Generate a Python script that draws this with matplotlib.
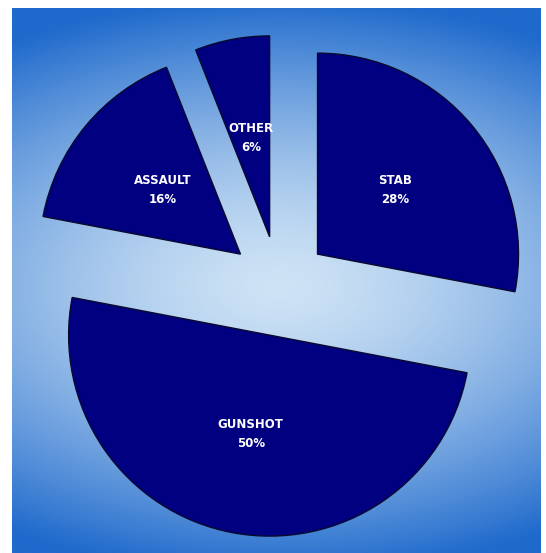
import numpy as np
import matplotlib
matplotlib.use("Agg")
import matplotlib.pyplot as plt
from matplotlib.colors import LinearSegmentedColormap

# Daten
categories = ["STAB", "GUNSHOT", "ASSAULT", "OTHER"]
shares = [28, 50, 16, 6]

W, H = 546, 553
fig = plt.figure(figsize=(W / 100, H / 100), dpi=100)
fig.patch.set_facecolor("white")
ax = fig.add_axes([0, 0, 1, 1])

# Hintergrund: elliptischer Verlauf (hell in der Mitte, blau am Rand)
cx, cy = 279, 267
bg_left, bg_right, bg_bottom, bg_top = 12, 541, 0, 545
xs = np.linspace(bg_left, bg_right, 400)
ys = np.linspace(bg_bottom, bg_top, 400)
X, Y = np.meshgrid(xs, ys)
t = np.sqrt(((X - cx) / 500.0) ** 2 + ((Y - cy) / 290.0) ** 2)
t = np.clip(t, 0, 1) ** 1.5
cmap = LinearSegmentedColormap.from_list("bg", ["#cde2f5", "#1f6acc"])
ax.imshow(t, cmap=cmap, vmin=0, vmax=1, origin="lower",
          extent=[bg_left, bg_right, bg_bottom, bg_top], interpolation="bilinear", zorder=0)

radius = 201
explode = [50] * len(shares)
wedges, _ = ax.pie(shares, explode=explode, startangle=90, counterclock=False,
                   center=(cx, cy), radius=radius,
                   colors=["#000080"] * len(shares),
                   wedgeprops=dict(edgecolor="#0a0a30", linewidth=1.0, zorder=2),
                   frame=False)

# Beschriftungen in den Segmenten
for w, cat, val in zip(wedges, categories, shares):
    theta = np.deg2rad((w.theta1 + w.theta2) / 2)
    x0, y0 = w.center
    x = x0 + 0.5 * radius * np.cos(theta)
    y = y0 + 0.5 * radius * np.sin(theta)
    ax.text(x, y, f"{cat}\n{val}%", ha="center", va="center", color="white",
            fontsize=8.5, fontweight="bold", linespacing=1.55,
            family=["DejaVu Sans"], zorder=3)

ax.set_xlim(0, W)
ax.set_ylim(0, H)
ax.set_aspect("auto")
ax.axis("off")

fig.savefig("out.png", dpi=100, facecolor="white")
